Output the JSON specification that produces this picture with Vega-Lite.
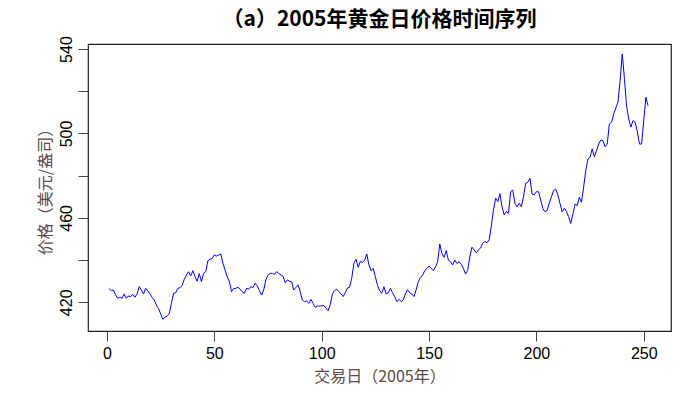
{
  "$schema": "https://vega.github.io/schema/vega-lite/v6.json",
  "autosize": "none",
  "width": 583,
  "height": 287,
  "padding": {"left": 88, "top": 44, "right": 21, "bottom": 88},
  "background": "white",
  "title": {
    "text": "（a）2005年黄金日价格时间序列",
    "font": "Noto Sans CJK SC",
    "fontSize": 21,
    "fontWeight": "bold",
    "color": "black",
    "anchor": "middle",
    "offset": 6
  },
  "config": {
    "view": {"stroke": "#222", "strokeWidth": 1.2},
    "axis": {
      "domain": false,
      "grid": false,
      "ticks": true,
      "tickColor": "#444",
      "tickSize": 10,
      "tickWidth": 1,
      "labelFont": "Liberation Sans",
      "labelFontSize": 16,
      "labelColor": "black",
      "titleFont": "Noto Sans CJK SC",
      "titleFontSize": 16,
      "titleFontWeight": "normal",
      "titleColor": "#5a4a4a"
    }
  },
  "data": {
    "values": [
      {"day":1,"price":426.6},{"day":2,"price":425.5},{"day":3,"price":425.8},{"day":4,"price":423.5},{"day":5,"price":421.9},
      {"day":6,"price":422.4},{"day":7,"price":421.9},{"day":8,"price":423.9},{"day":9,"price":421.9},{"day":10,"price":423},
      {"day":11,"price":422.6},{"day":12,"price":423.8},{"day":13,"price":422.4},{"day":14,"price":423.9},{"day":15,"price":427.4},
      {"day":16,"price":425.8},{"day":17,"price":423.9},{"day":18,"price":426.6},{"day":19,"price":425.5},{"day":20,"price":424},
      {"day":21,"price":422.4},{"day":22,"price":421.1},{"day":23,"price":418.7},{"day":24,"price":417},{"day":25,"price":414.5},
      {"day":26,"price":411.9},{"day":27,"price":412.9},{"day":28,"price":413.5},{"day":29,"price":414.5},{"day":30,"price":419.5},
      {"day":31,"price":424.3},{"day":32,"price":424.5},{"day":33,"price":426.6},{"day":34,"price":426.9},{"day":35,"price":428},
      {"day":36,"price":430.9},{"day":37,"price":432.9},{"day":38,"price":434.5},{"day":39,"price":432.5},{"day":40,"price":435},
      {"day":41,"price":432.1},{"day":42,"price":430},{"day":43,"price":433.6},{"day":44,"price":429.8},{"day":45,"price":433.7},
      {"day":46,"price":434.5},{"day":47,"price":439.7},{"day":48,"price":440.4},{"day":49,"price":440.8},{"day":50,"price":442.4},
      {"day":51,"price":441.9},{"day":52,"price":442.4},{"day":53,"price":442.9},{"day":54,"price":438.5},{"day":55,"price":435.3},
      {"day":56,"price":432},{"day":57,"price":429.8},{"day":58,"price":425},{"day":59,"price":426.6},{"day":60,"price":426.6},
      {"day":61,"price":427.1},{"day":62,"price":426.2},{"day":63,"price":425},{"day":64,"price":424.3},{"day":65,"price":426.6},
      {"day":66,"price":426.2},{"day":67,"price":427.4},{"day":68,"price":427},{"day":69,"price":429},{"day":70,"price":427.8},
      {"day":71,"price":425.5},{"day":72,"price":423.4},{"day":73,"price":425.9},{"day":74,"price":430.6},{"day":75,"price":433},
      {"day":76,"price":433.7},{"day":77,"price":433.7},{"day":78,"price":433.2},{"day":79,"price":434.5},{"day":80,"price":433.7},
      {"day":81,"price":433},{"day":82,"price":432.4},{"day":83,"price":429.3},{"day":84,"price":430.6},{"day":85,"price":430},
      {"day":86,"price":429.7},{"day":87,"price":425.8},{"day":88,"price":427.1},{"day":89,"price":428.2},{"day":90,"price":425},
      {"day":91,"price":421.1},{"day":92,"price":420.3},{"day":93,"price":420.7},{"day":94,"price":419.5},{"day":95,"price":421.4},
      {"day":96,"price":419.5},{"day":97,"price":417.6},{"day":98,"price":418.2},{"day":99,"price":418.2},{"day":100,"price":418.3},
      {"day":101,"price":418.5},{"day":102,"price":417.2},{"day":103,"price":416},{"day":104,"price":419},{"day":105,"price":424},
      {"day":106,"price":425.5},{"day":107,"price":426.2},{"day":108,"price":425.1},{"day":109,"price":424},{"day":110,"price":422.7},
      {"day":111,"price":424.6},{"day":112,"price":426.8},{"day":113,"price":427.1},{"day":114,"price":431.4},{"day":115,"price":438.5},
      {"day":116,"price":440.4},{"day":117,"price":436.6},{"day":118,"price":439.4},{"day":119,"price":438.9},{"day":120,"price":440},
      {"day":121,"price":442.9},{"day":122,"price":437.7},{"day":123,"price":435},{"day":124,"price":436.1},{"day":125,"price":432.1},
      {"day":126,"price":428},{"day":127,"price":425.5},{"day":128,"price":424.3},{"day":129,"price":427.4},{"day":130,"price":424},
      {"day":131,"price":424.5},{"day":132,"price":426.6},{"day":133,"price":424.5},{"day":134,"price":422.7},{"day":135,"price":420.3},
      {"day":136,"price":421.4},{"day":137,"price":420.3},{"day":138,"price":421.1},{"day":139,"price":424},{"day":140,"price":426},
      {"day":141,"price":424.5},{"day":142,"price":423.9},{"day":143,"price":422.7},{"day":144,"price":426},{"day":145,"price":429.8},
      {"day":146,"price":431.8},{"day":147,"price":432.9},{"day":148,"price":435},{"day":149,"price":436.1},{"day":150,"price":437.2},
      {"day":151,"price":436.1},{"day":152,"price":435},{"day":153,"price":436.8},{"day":154,"price":439.2},{"day":155,"price":447.6},
      {"day":156,"price":443.2},{"day":157,"price":441.3},{"day":158,"price":444.5},{"day":159,"price":440},{"day":160,"price":439.2},
      {"day":161,"price":437.7},{"day":162,"price":440},{"day":163,"price":438.4},{"day":164,"price":439.2},{"day":165,"price":438},
      {"day":166,"price":436.1},{"day":167,"price":433.4},{"day":168,"price":435.1},{"day":169,"price":441.6},{"day":170,"price":446.1},
      {"day":171,"price":444.8},{"day":172,"price":443.5},{"day":173,"price":444.8},{"day":174,"price":445.7},{"day":175,"price":448},
      {"day":176,"price":448.8},{"day":177,"price":448.2},{"day":178,"price":449.6},{"day":179,"price":456},{"day":180,"price":463.7},
      {"day":181,"price":469.3},{"day":182,"price":467.7},{"day":183,"price":471.5},{"day":184,"price":465.3},{"day":185,"price":461.4},
      {"day":186,"price":463},{"day":187,"price":462.2},{"day":188,"price":472.4},{"day":189,"price":473.2},{"day":190,"price":466.9},
      {"day":191,"price":465.3},{"day":192,"price":466.9},{"day":193,"price":465.3},{"day":194,"price":470},{"day":195,"price":476.4},
      {"day":196,"price":476.8},{"day":197,"price":478.8},{"day":198,"price":471.3},{"day":199,"price":470.9},{"day":200,"price":472.4},
      {"day":201,"price":472.4},{"day":202,"price":468.5},{"day":203,"price":464.5},{"day":204,"price":462.9},{"day":205,"price":463.5},
      {"day":206,"price":467},{"day":207,"price":470},{"day":208,"price":472.9},{"day":209,"price":473.6},{"day":210,"price":470.9},
      {"day":211,"price":466.9},{"day":212,"price":462.9},{"day":213,"price":464.5},{"day":214,"price":463},{"day":215,"price":460.6},
      {"day":216,"price":457.4},{"day":217,"price":461.8},{"day":218,"price":466.6},{"day":219,"price":465.8},{"day":220,"price":469.8},
      {"day":221,"price":467.4},{"day":222,"price":474.5},{"day":223,"price":482.4},{"day":224,"price":487.9},{"day":225,"price":488.7},
      {"day":226,"price":492.7},{"day":227,"price":489},{"day":228,"price":491.8},{"day":229,"price":495},{"day":230,"price":496.9},
      {"day":231,"price":496.6},{"day":232,"price":493.7},{"day":233,"price":495},{"day":234,"price":504.5},{"day":235,"price":505.3},
      {"day":236,"price":509.2},{"day":237,"price":512.1},{"day":238,"price":514.8},{"day":239,"price":525},{"day":240,"price":537.7},
      {"day":241,"price":526},{"day":242,"price":513},{"day":243,"price":506.9},{"day":244,"price":503},{"day":245,"price":506.1},
      {"day":246,"price":505.3},{"day":247,"price":501},{"day":248,"price":495},{"day":249,"price":495},{"day":250,"price":506},
      {"day":251,"price":517.2},{"day":252,"price":513.2}
    ]
  },
  "mark": {"type": "line", "color": "#0000ff", "strokeWidth": 1, "clip": true},
  "encoding": {
    "x": {
      "field": "day",
      "type": "quantitative",
      "scale": {"domain": [-8.85, 262.7], "nice": false, "zero": false},
      "axis": {
        "title": "交易日（2005年）",
        "values": [0, 50, 100, 150, 200, 250],
        "labelPadding": 4,
        "titlePadding": 7
      }
    },
    "y": {
      "field": "price",
      "type": "quantitative",
      "scale": {"domain": [406.4, 542.4], "nice": false, "zero": false},
      "axis": {
        "title": "价格（美元/盎司）",
        "values": [420, 440, 460, 480, 500, 520, 540],
        "labelExpr": "datum.value % 40 == 20 ? datum.label : ''",
        "labelAngle": -90,
        "labelAlign": "center",
        "labelBaseline": "bottom",
        "labelPadding": 4,
        "titlePadding": 5
      }
    }
  }
}
